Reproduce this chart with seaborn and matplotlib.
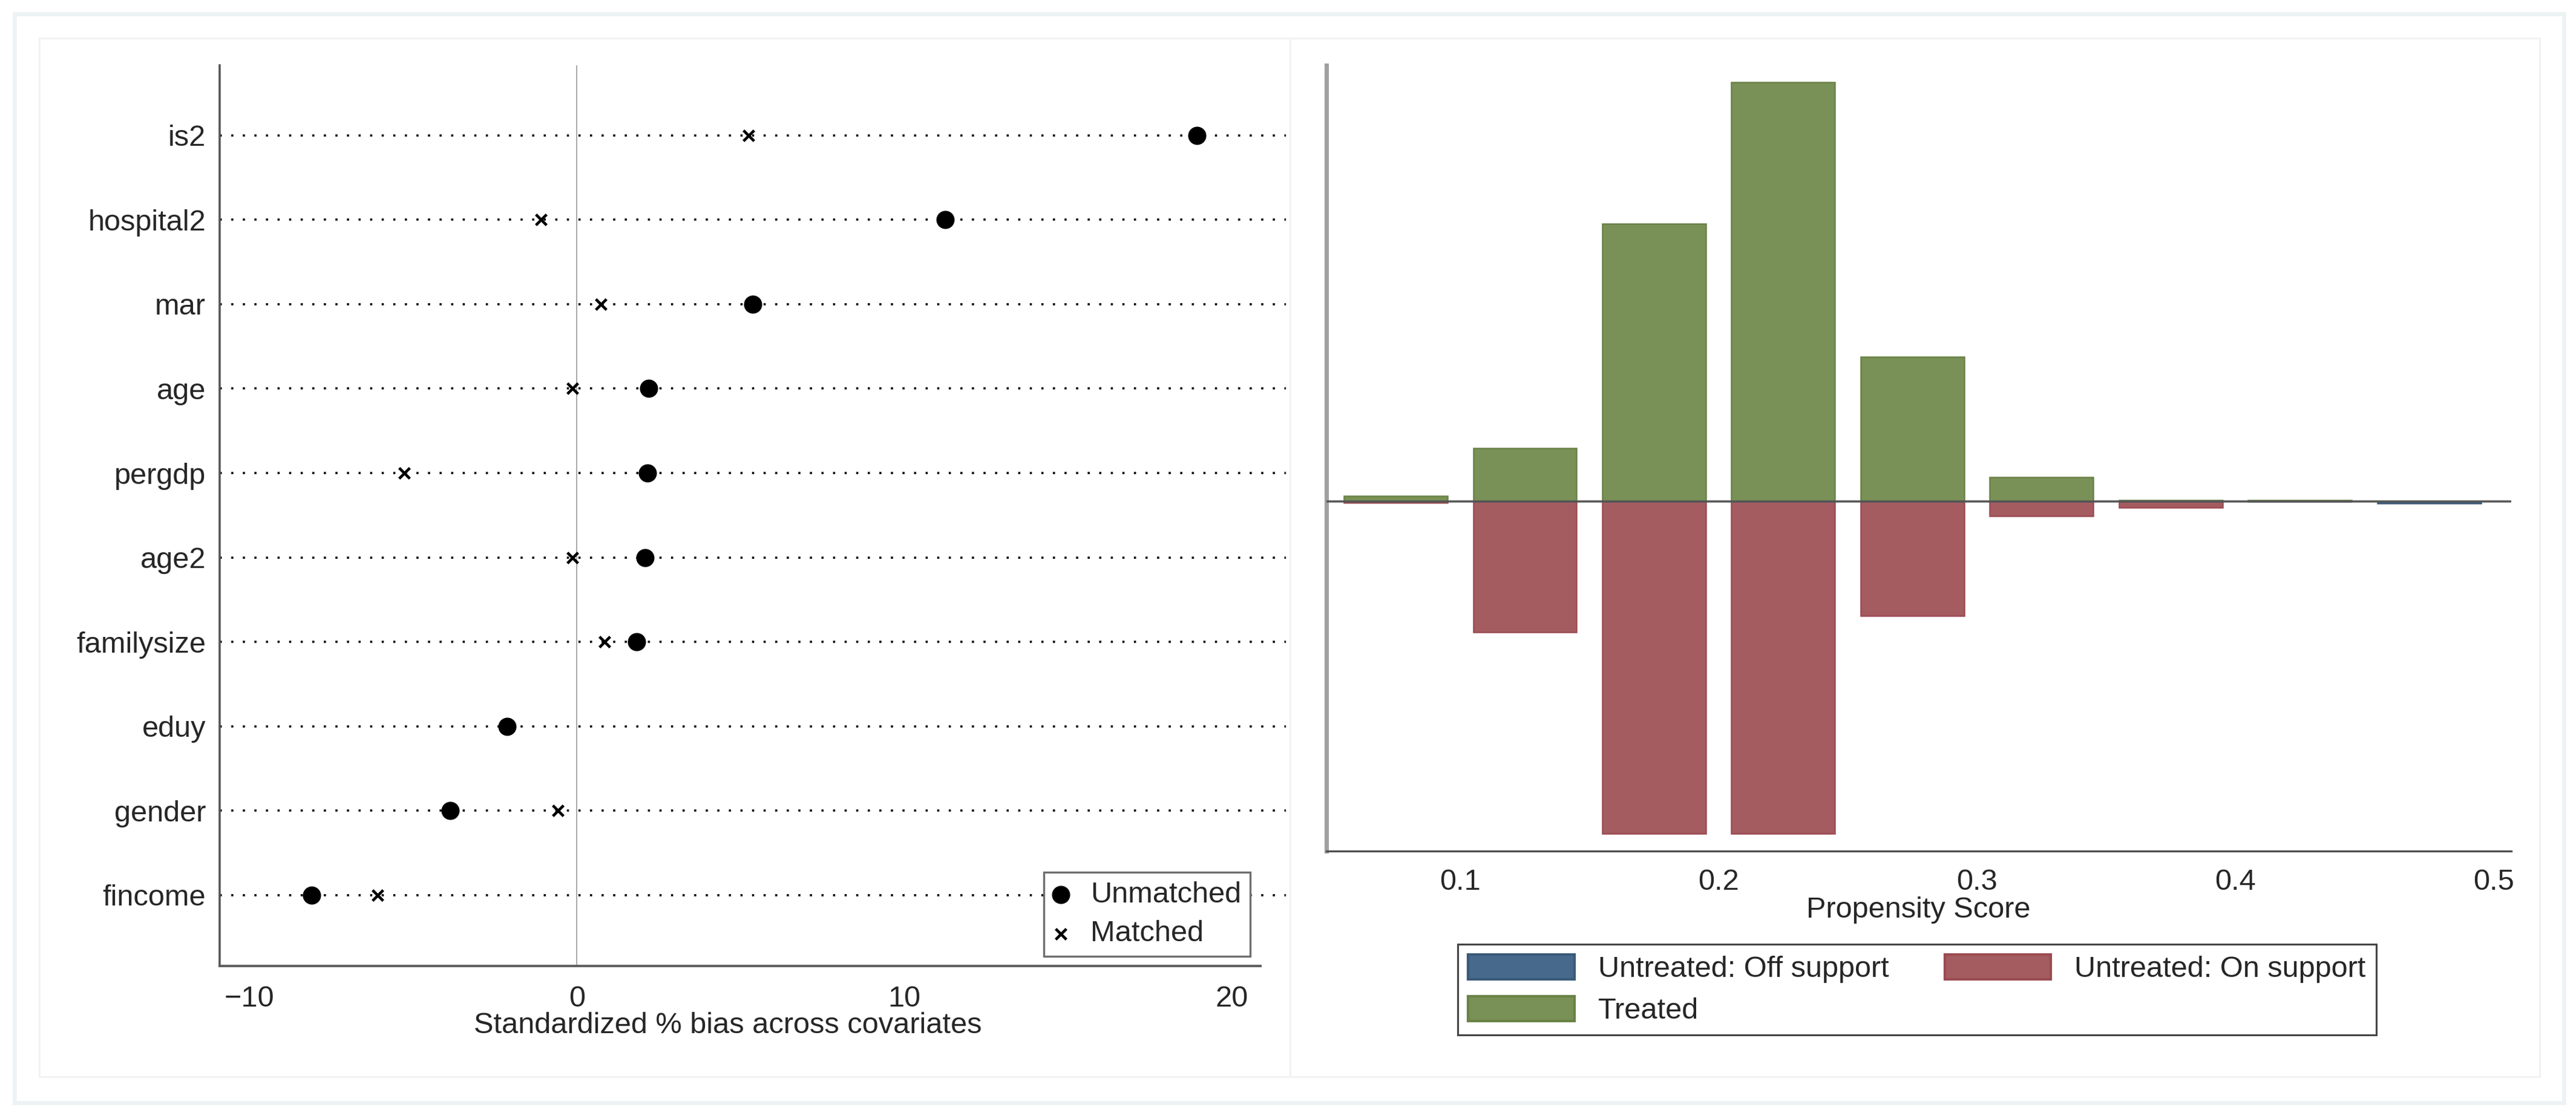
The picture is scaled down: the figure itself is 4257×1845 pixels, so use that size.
import pandas as pd
import seaborn as sns
import matplotlib.pyplot as plt
from matplotlib.patches import Rectangle, Patch

# covariate balance: standardized % bias
covariates = ["is2", "hospital2", "mar", "age", "pergdp", "age2",
              "familysize", "eduy", "gender", "fincome"]
bias_unmatched = [18.94, 11.24, 5.37, 2.20, 2.15, 2.08, 1.82, -2.13, -3.87, -8.09]
bias_matched = [5.24, -1.09, 0.73, -0.13, -5.27, -0.13, 0.84, -2.10, -0.58, -6.08]

# propensity score histogram (bin centres, relative heights)
ps_bins = [0.075, 0.125, 0.175, 0.225, 0.275, 0.325, 0.375, 0.425, 0.475]
treated = [8, 75, 390, 588, 203, 34, 2, 2, 0]
untreated_on = [1, 183, 465, 465, 160, 20, 8, 0, 0]
untreated_off = [0, 0, 0, 0, 0, 0, 0, 0, 2]

colors = {"Untreated: Off support": "#47698c", "Untreated: On support": "#a55c60", "Treated": "#799156"}
edges = {"Untreated: Off support": "#3a5a7a", "Untreated: On support": "#9b4b52", "Treated": "#698246"}

sns.set_style("white")
plt.rcParams['font.family'] = ['Liberation Sans', 'DejaVu Sans']
plt.rcParams['font.size'] = 11.7

W, H = 4257, 1845
fig = plt.figure(figsize=(W / 300, H / 300), dpi=300)


def fx(px):
    return px / W


def fy(py):
    return 1 - py / H


def frame(x0, y0, x1, y1, color, lw):
    fig.patches.append(Rectangle((fx(x0), fy(y1)), fx(x1) - fx(x0), fy(y0) - fy(y1),
                                 transform=fig.transFigure, fill=False, ec=color, lw=lw))


frame(24, 23, 4237, 1823, "#edf2f4", 1.6)
frame(65, 63, 2132, 1780, "#f1f2f2", 0.7)
frame(2132, 63, 4197, 1780, "#f1f2f2", 0.7)

# ---- left: bias plot
ax1 = fig.add_axes([fx(363), fy(1597), fx(2125) - fx(363), fy(108) - fy(1597)])
bal = pd.DataFrame({"covariate": covariates * 2,
                    "bias": bias_unmatched + bias_matched,
                    "sample": ["Unmatched"] * len(covariates) + ["Matched"] * len(covariates)})

# matched drawn first so that the dots sit on top
sns.scatterplot(data=bal[bal["sample"] == "Matched"], x="bias", y="covariate",
                color="black", marker="x", s=18, linewidth=1.1, label="Matched", ax=ax1, zorder=3)
sns.scatterplot(data=bal[bal["sample"] == "Unmatched"], x="bias", y="covariate",
                color="black", marker="o", s=52, linewidth=0, label="Unmatched", ax=ax1, zorder=4)

for i in range(len(covariates)):
    ax1.axhline(i, color="black", lw=0.85, ls=(0, (1, 4.4)), zorder=1)
ax1.axvline(0, color="#aaaaaa", lw=0.5, zorder=2)

ax1.set_xlim(-10.905, 21.65)
ax1.set_ylim(len(covariates) - 1 + 0.84, -0.83)
ax1.set_xticks([-10, 0, 10, 20])
ax1.set_xlabel("Standardized % bias across covariates")
ax1.xaxis.set_label_coords(0.4768, -0.051)
ax1.set_ylabel("")
for s in ["top", "right"]:
    ax1.spines[s].set_visible(False)
ax1.spines["bottom"].set_bounds(-10.905, 20.87)
ax1.spines["bottom"].set_color("#5e5e5e")
ax1.spines["bottom"].set_linewidth(0.95)
ax1.spines["left"].set_color("#555555")
ax1.spines["left"].set_linewidth(0.85)
ax1.tick_params(axis="x", length=4.6, width=0.75, color="#6e6e6e", pad=3, labelsize=11.7)
ax1.tick_params(axis="y", length=5, width=0.75, color="black", pad=0.5, labelsize=11.7)

h, l = ax1.get_legend_handles_labels()
leg1 = ax1.legend(h[::-1], l[::-1], loc="lower right", bbox_to_anchor=(fx(2066), fy(1581)),
                  bbox_transform=fig.transFigure, frameon=True, fancybox=False,
                  edgecolor="#6e6e6e", framealpha=1, borderpad=0.3, handlelength=0.55,
                  handletextpad=0.74, labelspacing=0.4, borderaxespad=0, fontsize=11.7)
leg1.get_frame().set_linewidth(0.8)
leg1.set_zorder(10)

# ---- right: propensity score histogram
ax2 = fig.add_axes([fx(2192), fy(1407), fx(4150) - fx(2192), fy(108) - fy(1407)])
ps = pd.DataFrame({"score": ps_bins * 3,
                   "count": treated + [-v for v in untreated_on] + [-v for v in untreated_off],
                   "group": ["Treated"] * len(ps_bins) + ["Untreated: On support"] * len(ps_bins)
                   + ["Untreated: Off support"] * len(ps_bins)})
order = ["Treated", "Untreated: On support", "Untreated: Off support"]
sns.barplot(data=ps, x="score", y="count", hue="group", hue_order=order,
            palette=colors, native_scale=True, dodge=False, width=0.8,
            errorbar=None, saturation=1, legend=False, ax=ax2)
for cont, g in zip(ax2.containers, order):
    for bar in cont:
        bar.set_edgecolor(edges[g])
        bar.set_linewidth(0.6)

ax2.axhline(0, color="#555555", lw=0.85, zorder=5)
ax2.set_xlim(0.0482, 0.5068)
ax2.set_ylim(-490, 612)
ax2.set_xticks([0.1, 0.2, 0.3, 0.4, 0.5], ["0.1", "0.2", "0.3", "0.4", "0.5"])
ax2.set_yticks([])
ax2.set_ylabel("")
ax2.set_xlabel("Propensity Score")
ax2.xaxis.set_label_coords(0.4995, -0.0577)
for s in ["top", "right"]:
    ax2.spines[s].set_visible(False)
ax2.spines["left"].set_color("#a0a0a0")
ax2.spines["left"].set_linewidth(1.7)
ax2.spines["bottom"].set_color("#505050")
ax2.spines["bottom"].set_linewidth(0.8)
ax2.tick_params(axis="x", length=4.6, width=0.75, color="#6e6e6e", pad=2.4, labelsize=11.7)

labels = ["Untreated: Off support", "Treated", "Untreated: On support"]
handles = [Patch(facecolor=colors[g], edgecolor=edges[g]) for g in labels]
leg2 = fig.legend(handles, labels, loc="upper left", bbox_to_anchor=(fx(2409), fy(1561)),
                  ncol=2, frameon=True, fancybox=False, edgecolor="#464646", framealpha=1,
                  borderpad=0.35, handlelength=3.6, handleheight=0.9, handletextpad=0.8,
                  columnspacing=1.9, labelspacing=0.45, borderaxespad=0, fontsize=11.7)
leg2.get_frame().set_linewidth(0.75)

fig.savefig("out.png", dpi=300)
